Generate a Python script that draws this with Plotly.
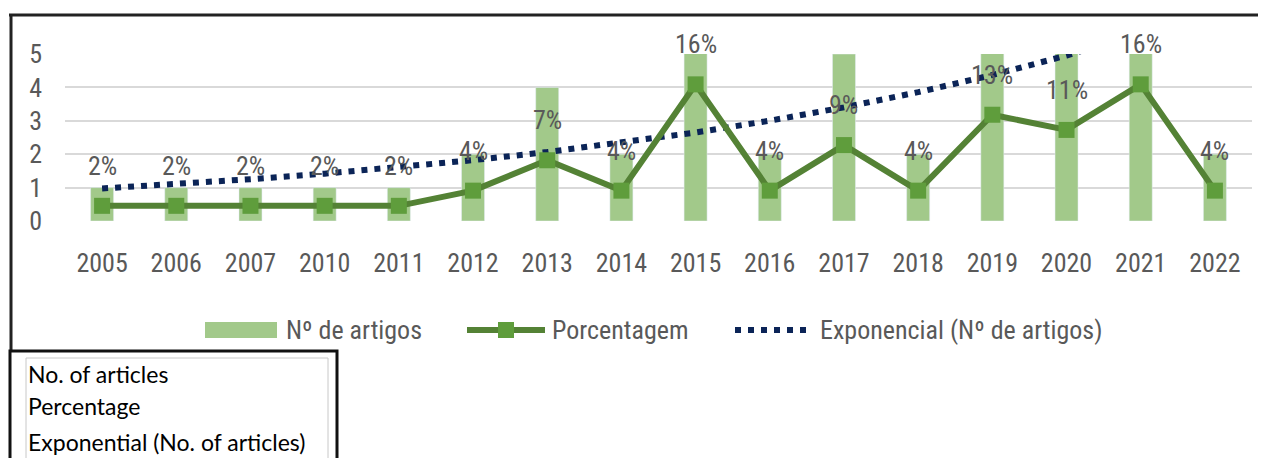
import numpy as np
import plotly.graph_objects as go

# ---------------- data ----------------
years = ["2005", "2006", "2007", "2010", "2011", "2012", "2013", "2014",
         "2015", "2016", "2017", "2018", "2019", "2020", "2021", "2022"]
articles = [1, 1, 1, 1, 1, 2, 4, 2, 9, 2, 5, 2, 7, 6, 9, 2]
legend_labels = ["Nº de artigos", "Porcentagem", "Exponencial (Nº de artigos)"]
translation_lines = ["No. of articles", "Percentage", "Exponential (No. of articles)"]

total = sum(articles)
percent = [a / total * 100 for a in articles]

# exponential trendline (Excel-style fit of ln(y) on 1..n)
xi = np.arange(1, len(articles) + 1)
b, a = np.polyfit(xi, np.log(articles), 1)
trend = np.exp(a + b * xi)

# ---------------- styling ----------------
OFF = 8                     # page body margin
W, H = 1266 - OFF, 458 - OFF
L, R, T, B = 65, 1252, 54, 221  # plot area in page pixels
BAR = "#a2c98a"
LINE = "#548235"
MARK = "#5f9d3c"
NAVY = "#0b2457"
GRAY = "#595959"
NARROW = "Liberation Sans Narrow, Arial Narrow, Roboto Condensed, sans-serif"
BODY = "Lato, Carlito, Calibri, sans-serif"
FS = 26


def px(x):
    return (x - L) / (R - L)


def py(y):
    return (B - y) / (B - T)


fig = go.Figure()
fig.add_trace(go.Bar(x=years, y=articles, marker_color=BAR, width=0.31,
                     name=legend_labels[0], showlegend=False))
fig.add_trace(go.Scatter(x=years, y=trend, mode="lines",
                         line=dict(color=NAVY, width=6, dash="6px,7px"),
                         name=legend_labels[2], showlegend=False))
fig.add_trace(go.Scatter(x=years, y=percent, yaxis="y2", mode="lines+markers",
                         line=dict(color=LINE, width=6),
                         marker=dict(symbol="square", size=16, color=MARK),
                         name=legend_labels[1], showlegend=False))

annotations = []
for i, p in enumerate(percent):
    annotations.append(dict(x=i, y=p, xref="x", yref="y2", text=f"{round(p):d}%",
                            showarrow=False, yshift=40, yanchor="middle",
                            font=dict(family=NARROW, size=FS, color=GRAY)))

# manual legend
shapes = []
shapes.append(dict(type="rect", xref="paper", yref="paper", x0=px(205), x1=px(277),
                   y0=py(338), y1=py(322), fillcolor=BAR, line=dict(width=0)))
shapes.append(dict(type="line", xref="paper", yref="paper", x0=px(467), x1=px(545),
                   y0=py(330), y1=py(330), line=dict(color=LINE, width=6)))
shapes.append(dict(type="rect", xref="paper", yref="paper", x0=px(498), x1=px(514),
                   y0=py(338), y1=py(322), fillcolor=MARK, line=dict(width=0)))
shapes.append(dict(type="line", xref="paper", yref="paper", x0=px(735), x1=px(808),
                   y0=py(330), y1=py(330), line=dict(color=NAVY, width=6, dash="6px,7px")))
for xpos, txt in zip([284, 550, 818], legend_labels):
    annotations.append(dict(x=px(xpos), y=py(330), xref="paper", yref="paper",
                            text=txt, showarrow=False, xanchor="left", yanchor="middle",
                            font=dict(family=NARROW, size=FS, color=GRAY)))

# frame lines
shapes.append(dict(type="line", xref="paper", yref="paper", x0=px(9), x1=px(1275),
                   y0=py(15), y1=py(15), line=dict(color="#222222", width=3)))
shapes.append(dict(type="line", xref="paper", yref="paper", x0=px(11), x1=px(11),
                   y0=py(14), y1=py(351), line=dict(color="#222222", width=3)))
# translation box
shapes.append(dict(type="rect", xref="paper", yref="paper", x0=px(10), x1=px(337),
                   y0=py(475), y1=py(351), line=dict(color="#111111", width=3),
                   fillcolor="white"))
shapes.append(dict(type="rect", xref="paper", yref="paper", x0=px(26), x1=px(328),
                   y0=py(475), y1=py(358), line=dict(color="#c8c8c8", width=1)))
for ypos, txt in zip([374, 406, 442], translation_lines):
    annotations.append(dict(x=px(26), y=py(ypos), xref="paper", yref="paper",
                            text=txt, showarrow=False, xanchor="left", yanchor="middle",
                            font=dict(family=BODY, size=23, color="black")))

fig.update_layout(
    width=W, height=H,
    margin=dict(l=L - OFF, r=(W + OFF) - R, t=T - OFF, b=(H + OFF) - B, pad=0),
    plot_bgcolor="white", paper_bgcolor="white",
    showlegend=False,
    xaxis=dict(type="category", range=[-0.5, len(years) - 0.5], showgrid=False,
               showline=False, zeroline=False, ticks="", ticklabelstandoff=24,
               tickfont=dict(family=NARROW, size=FS, color=GRAY)),
    yaxis=dict(range=[0, 5], dtick=1, showgrid=True, gridcolor="#d9d9d9", gridwidth=2,
               zeroline=False, showline=False, ticks="", ticklabelstandoff=22,
               tickfont=dict(family=NARROW, size=FS, color=GRAY)),
    yaxis2=dict(range=[0, 20], overlaying="y", side="right", showgrid=False,
                zeroline=False, showline=False, showticklabels=False, ticks=""),
    shapes=shapes,
    annotations=annotations,
)

fig.write_html("out.html")
